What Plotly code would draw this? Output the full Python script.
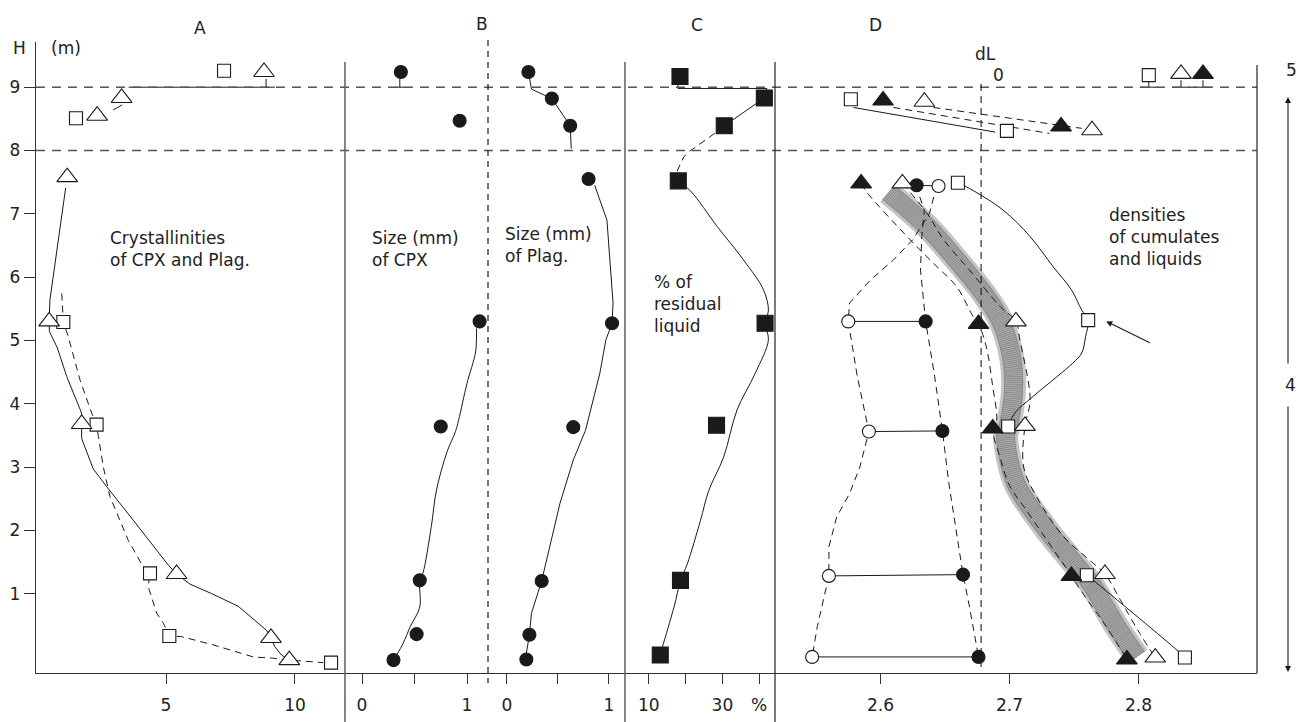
import plotly.graph_objects as go

W, HP = 1298, 722

# ---------------- data ----------------
# Panel A : crystallinities (triangles / squares), H in m
A_tri_x = [8.8, 3.28, 2.33, 1.17, 0.47, 1.73, 5.41, 9.07, 9.78]
A_tri_h = [9.24, 8.83, 8.55, 7.58, 5.30, 3.68, 1.31, 0.30, -0.05]
A_sq_x = [7.25, 1.51, 1.02, 2.31, 4.38, 5.13, 11.40]
A_sq_h = [9.26, 8.51, 5.29, 3.67, 1.32, 0.33, -0.09]
A_solid_x = [1.11, 0.50, 0.47, 0.48, 0.79, 1.15, 1.73, 1.73, 2.18, 2.70, 3.73, 5.09, 5.41,
             5.93, 6.77, 7.80, 8.90, 9.07, 9.22, 9.48, 9.78]
A_solid_h = [7.41, 5.64, 5.30, 5.14, 4.88, 4.43, 3.85, 3.45, 2.97, 2.69, 2.16, 1.45, 1.31,
             1.15, 1.00, 0.80, 0.42, 0.30, 0.16, 0.03, -0.05]
A_dash_x = [0.96, 1.02, 1.21, 1.67, 2.12, 2.31, 2.38, 2.57, 2.83, 3.54, 4.12, 4.38, 4.31, 4.64,
            4.90, 5.13, 5.61, 6.83, 8.38, 9.16, 9.78, 10.19, 11.10]
A_dash_h = [5.74, 5.29, 5.06, 4.37, 3.85, 3.67, 3.48, 3.00, 2.53, 1.84, 1.42, 1.32, 1.11, 0.69,
            0.53, 0.33, 0.32, 0.19, 0.00, -0.02, -0.05, -0.065, -0.09]
A_top_x = [2.95, 3.30, None, 3.55, 9.22, None, 8.88, 8.88]
A_top_h = [8.64, 8.72, None, 9.0, 9.0, None, 9.0, 9.13]

# Panel B : grain sizes (mm) of CPX and Plag.
B1_x = [0.37, 0.93, 1.12, 0.75, 0.55, 0.52, 0.30]
B1_h = [9.24, 8.47, 5.30, 3.64, 1.21, 0.36, -0.05]
B1_curve_x = [1.09, 1.09, 1.08, 1.00, 0.92, 0.89, 0.81, 0.71, 0.66, 0.58, 0.55, 0.55, 0.46, 0.39, 0.33]
B1_curve_h = [5.19, 5.01, 4.80, 4.32, 3.74, 3.56, 3.24, 2.64, 2.06, 1.32, 1.21, 0.79, 0.48, 0.21, 0.03]
B1_stem_x = [0.36, 0.36, None, 0.31, 0.41]
B1_stem_h = [9.13, 9.0, None, 9.0, 9.0]
B2_x = [0.21, 0.44, 0.62, 0.80, 1.03, 0.65, 0.34, 0.22, 0.19]
B2_h = [9.24, 8.82, 8.39, 7.55, 5.27, 3.63, 1.20, 0.35, -0.04]
B2_curve_x = [0.21, 0.24, 0.44, 0.62, 0.63, None, 0.86, 0.98, 1.04, 1.03, 0.97, 0.91, 0.77, 0.65,
              0.52, 0.37, 0.34, 0.24, 0.22, 0.19]
B2_curve_h = [9.24, 8.97, 8.82, 8.39, 8.03, None, 7.45, 6.90, 5.59, 5.27, 5.01, 4.48, 3.58, 3.11,
              2.43, 1.43, 1.20, 0.69, 0.35, 0.06]

# Panel C : % of residual liquid
C_x = [18.46, 41.4, 30.5, 18.0, 41.6, 28.4, 18.6, 13.1]
C_h = [9.17, 8.83, 8.39, 7.52, 5.27, 3.66, 1.21, 0.03]
C_top_x = [17.9, 17.9, 42.1, 41.4, 30.5]
C_top_h = [9.07, 8.98, 8.98, 8.83, 8.39]
C_dash_x = [30.5, 28.6, 20.9, 19.5, 17.8, 18.0]
C_dash_h = [8.39, 8.30, 7.98, 7.90, 7.69, 7.52]
C_low_x = [18.0, 21.35, 28.57, 35.76, 41.16, 42.51, 41.6, 42.51, 38.92, 33.97, 30.35, 26.30,
           24.05, 20.46, 18.65, 16.84, 13.70, 13.05]
C_low_h = [7.52, 7.36, 6.80, 6.27, 5.80, 5.48, 5.27, 5.01, 4.48, 3.90, 3.16, 2.63, 2.16, 1.47,
           1.21, 0.79, 0.16, 0.03]

# Panel D : densities of cumulates and liquids
D_sq_x = [2.808, 2.577, 2.698, 2.660, 2.761, 2.699, 2.760, 2.836]
D_sq_h = [9.19, 8.81, 8.31, 7.49, 5.32, 3.64, 1.29, -0.01]
D_ot_x = [2.833, 2.634, 2.764, 2.617, 2.705, 2.712, 2.774, 2.813]
D_ot_h = [9.21, 8.77, 8.32, 7.48, 5.30, 3.65, 1.31, -0.01]
D_ft_x = [2.850, 2.602, 2.740, 2.585, 2.676, 2.687, 2.748, 2.791]
D_ft_h = [9.21, 8.79, 8.38, 7.48, 5.26, 3.61, 1.28, -0.04]
D_oc_x = [2.645, 2.575, 2.591, 2.560, 2.547]
D_oc_h = [7.44, 5.30, 3.56, 1.28, 0.00]
D_fc_x = [2.628, 2.635, 2.648, 2.664, 2.676]
D_fc_h = [7.45, 5.30, 3.57, 1.30, 0.00]
D_oc_curve_x = [2.645, 2.642, 2.638, 2.625, 2.610, 2.592, 2.576, 2.575, 2.582, 2.591, 2.584,
                2.576, 2.566, 2.560, 2.560, 2.551, 2.547]
D_oc_curve_h = [7.44, 7.32, 7.01, 6.59, 6.27, 5.95, 5.59, 5.30, 4.43, 3.56, 3.00, 2.58, 2.21,
                1.74, 1.28, 0.48, 0.00]
D_fc_curve_x = [2.628, 2.629, 2.634, 2.632, 2.631, 2.635, 2.642, 2.648, 2.653, 2.659, 2.664, 2.669, 2.676]
D_fc_curve_h = [7.45, 7.35, 7.06, 6.64, 6.11, 5.30, 4.43, 3.57, 2.74, 1.95, 1.30, 0.79, 0.00]
D_sq_curve_x = [2.660, 2.669, 2.695, 2.716, 2.734, 2.748, 2.756, 2.761, 2.759, 2.756, 2.749,
                2.737, 2.718, 2.704, 2.699, None, 2.760, 2.765, 2.828, 2.836]
D_sq_curve_h = [7.49, 7.40, 7.06, 6.64, 6.16, 5.80, 5.48, 5.32, 5.06, 4.80, 4.64, 4.43, 4.11,
                3.85, 3.64, None, 1.29, 1.21, 0.14, -0.01]
D_ft_curve_x = [2.585, 2.589, 2.623, 2.644, 2.659, 2.672, 2.676, 2.682, 2.687, 2.690, 2.687,
                2.693, 2.700, 2.713, 2.736, 2.748, 2.757, 2.775, 2.791]
D_ft_curve_h = [7.48, 7.35, 6.59, 6.16, 5.85, 5.37, 5.26, 4.90, 4.27, 3.74, 3.61, 3.13, 2.71,
                2.32, 1.64, 1.28, 1.00, 0.48, -0.04]
D_ot_curve_x = [2.617, 2.636, 2.649, 2.669, 2.693, 2.705, 2.708, 2.716, 2.712, 2.711, 2.721,
                2.742, 2.762, 2.774, 2.786, 2.801, 2.813]
D_ot_curve_h = [7.48, 7.01, 6.59, 6.11, 5.53, 5.30, 5.01, 4.06, 3.65, 3.00, 2.53, 1.90, 1.53,
                1.31, 0.90, 0.37, -0.01]
D_band_x = [2.606, 2.636, 2.659, 2.680, 2.693, 2.702, 2.703, 2.699, 2.697, 2.705, 2.727, 2.748,
            2.763, 2.783, 2.799]
D_band_h = [7.34, 6.80, 6.27, 5.74, 5.32, 4.69, 4.16, 3.64, 3.50, 2.74, 2.06, 1.53, 1.16, 0.48, 0.00]
D_up_sq_x = [2.579, 2.689]
D_up_sq_h = [8.68, 8.29]
D_up_ft_x = [2.610, 2.731]
D_up_ft_h = [8.68, 8.27]
D_up_ot_x = [2.641, 2.756]
D_up_ot_h = [8.68, 8.35]
dL = 2.678
level_5_4 = 9.0
level_lower = 8.0

# ---------------- helpers ----------------
INK = "#1a1a1a"


def px(x):
    return x / W


def py(y):
    return 1 - y / HP


fig = go.Figure()


def add_line(x, h, xa, dash=None, width=1.0, color=INK, shape="linear"):
    fig.add_trace(go.Scatter(x=x, y=h, xaxis=xa, yaxis="y", mode="lines",
                             line=dict(color=color, width=width, dash=dash, shape=shape),
                             hoverinfo="skip", showlegend=False, connectgaps=False))


def add_marks(x, h, xa, symbol, size, filled):
    fig.add_trace(go.Scatter(x=x, y=h, xaxis=xa, yaxis="y", mode="markers",
                             marker=dict(symbol=symbol, size=size,
                                         color=INK if filled else "white",
                                         line=dict(color=INK, width=1.1)),
                             hoverinfo="skip", showlegend=False, cliponaxis=False))


def stems(xs, hs, foot):
    sx, sh = [], []
    for xv, hv in zip(xs, hs):
        if hv > level_5_4:
            sx += [xv, xv, None, xv - foot, xv + foot, None]
            sh += [level_5_4, hv - 0.1, None, level_5_4, level_5_4, None]
    return sx, sh


DASH = "7px,5px"

# ---- Panel A
add_line(A_solid_x, A_solid_h, "x")
add_line(A_dash_x, A_dash_h, "x", dash=DASH)
add_line(A_top_x, A_top_h, "x")
add_marks(A_sq_x, A_sq_h, "x", "square", 13, False)
add_marks(A_tri_x, A_tri_h, "x", "triangle-up", 18, False)

# ---- Panel B
add_line(B1_curve_x, B1_curve_h, "x2", shape="spline")
add_line(B1_stem_x, B1_stem_h, "x2")
add_marks(B1_x, B1_h, "x2", "circle", 13, True)
add_line(B2_curve_x, B2_curve_h, "x3")
add_marks(B2_x, B2_h, "x3", "circle", 13, True)

# ---- Panel C
add_line(C_top_x, C_top_h, "x4")
add_line(C_dash_x, C_dash_h, "x4", dash=DASH)
add_line(C_low_x, C_low_h, "x4", shape="spline")
add_marks(C_x, C_h, "x4", "square", 16, True)

# ---- Panel D
add_line(D_band_x, D_band_h, "x5", width=25, color="#c4c4c4", shape="spline")
add_line(D_band_x, D_band_h, "x5", width=19, color="#8a8a8a", shape="spline")
add_line(D_band_x, D_band_h, "x5", width=17, color="rgba(255,255,255,0.3)", shape="spline",
         dash="1px,1px")
add_line(D_ft_curve_x, D_ft_curve_h, "x5", dash=DASH, shape="spline")
add_line(D_ot_curve_x, D_ot_curve_h, "x5", dash=DASH, shape="spline")
add_line(D_oc_curve_x, D_oc_curve_h, "x5", dash=DASH)
add_line(D_fc_curve_x, D_fc_curve_h, "x5", dash=DASH)
add_line(D_sq_curve_x, D_sq_curve_h, "x5", shape="spline")
add_line(D_up_sq_x, D_up_sq_h, "x5")
add_line(D_up_ft_x, D_up_ft_h, "x5", dash=DASH)
add_line(D_up_ot_x, D_up_ot_h, "x5", dash=DASH)
rx, rh = [], []
for a, b, ha, hb in zip(D_oc_x, D_fc_x, D_oc_h, D_fc_h):
    rx += [a, b, None]
    rh += [ha, hb, None]
add_line(rx, rh, "x5")
for xs, hs in ((D_sq_x, D_sq_h), (D_ot_x, D_ot_h), (D_ft_x, D_ft_h)):
    sx, sh = stems(xs, hs, 0.007)
    add_line(sx, sh, "x5")
add_marks(D_oc_x, D_oc_h, "x5", "circle", 13, False)
add_marks(D_fc_x, D_fc_h, "x5", "circle", 13, True)
add_marks(D_sq_x, D_sq_h, "x5", "square", 13, False)
add_marks(D_ot_x, D_ot_h, "x5", "triangle-up", 18, False)
add_marks(D_ft_x, D_ft_h, "x5", "triangle-up", 18, True)

# ---------------- axes ----------------
FONT = "DejaVu Sans"
edges = [36, 345, 488, 625, 775, 1257]
ranges = [[-0.04, 11.94], [-0.162, 1.2], [-0.186, 1.157], [3.51, 44.3], [2.5182, 2.8919]]
ticks = [([5, 10], ["5", "10"]),
         ([0, 0.5, 1], ["0", "", "1"]),
         ([0, 0.5, 1], ["0", "", "1"]),
         ([10, 20, 30, 40], ["10", "", "30", "%"]),
         ([2.6, 2.7, 2.8], ["2.6", "2.7", "2.8"])]
axis_common = dict(anchor="y", showgrid=False, zeroline=False, showline=True, linecolor="#333",
                   linewidth=1.3, ticks="outside", ticklen=10, tickcolor="#333", tickwidth=1,
                   tickfont=dict(family=FONT, size=17, color="#222"), ticklabelstandoff=6,
                   fixedrange=True)
lay = {}
for i in range(5):
    key = "xaxis" if i == 0 else f"xaxis{i + 1}"
    lay[key] = dict(axis_common, domain=[px(edges[i]), px(edges[i + 1])], range=ranges[i],
                    tickmode="array", tickvals=ticks[i][0], ticktext=ticks[i][1])

ybot, ytop = 673, 42
lay["yaxis"] = dict(anchor="x", domain=[py(ybot), py(ytop)], range=[-0.254, 9.714],
                    showgrid=False, zeroline=False, showline=True, linecolor="#333", linewidth=1.3,
                    ticks="outside", ticklen=11, tickcolor="#333", tickmode="array",
                    tickvals=[1, 2, 3, 4, 5, 6, 7, 8, 9],
                    tickfont=dict(family=FONT, size=17, color="#222"), fixedrange=True)

shapes = []
# dashed reference levels
for lv in (level_5_4, level_lower):
    shapes.append(dict(type="line", xref="paper", yref="y", x0=px(36), x1=px(1257), y0=lv, y1=lv,
                       line=dict(color="#555", width=1.5, dash="9px,7px")))
# panel separators
for xe, c, wd in ((345, "#666", 1.6), (625, "#666", 1.6), (775, "#222", 1.2)):
    shapes.append(dict(type="line", xref="paper", yref="paper", x0=px(xe), x1=px(xe),
                       y0=py(62), y1=py(722), line=dict(color=c, width=wd)))
shapes.append(dict(type="line", xref="paper", yref="paper", x0=px(1257), x1=px(1257),
                   y0=py(65), y1=py(673), line=dict(color="#222", width=1.2)))
# B middle dashed divider
shapes.append(dict(type="line", xref="paper", yref="paper", x0=px(488), x1=px(488),
                   y0=py(40), y1=py(683), line=dict(color=INK, width=1.2, dash="6px,5px")))
# dL line
shapes.append(dict(type="line", xref="x5", yref="y", x0=dL, x1=dL, y0=-0.16, y1=9.11,
                   line=dict(color=INK, width=1.1, dash="7px,5px")))


def txt(s, x, y, size=17, xanchor="center", yanchor="middle", align="center"):
    return dict(text=s, x=px(x), y=py(y), xref="paper", yref="paper", showarrow=False,
                xanchor=xanchor, yanchor=yanchor, align=align,
                font=dict(family=FONT, size=size, color="#222"))


ann = [
    txt("A", 200, 28), txt("B", 482, 24), txt("C", 697, 25), txt("D", 875, 25),
    txt("H", 19, 48), txt("(m)", 66, 48),
    txt("dL", 985, 54), txt("0", 998, 75),
    txt("5", 1291, 70), txt("4", 1290, 385),
    txt("Crystallinities<br>of CPX and Plag.", 108, 249, xanchor="left", align="left"),
    txt("Size (mm)<br>of CPX", 370, 249, xanchor="left", align="left"),
    txt("Size (mm)<br>of Plag.", 503, 245, xanchor="left", align="left"),
    txt("% of<br>residual<br>liquid", 652, 304, xanchor="left", align="left"),
    txt("densities<br>of cumulates<br>and liquids", 1107, 237, xanchor="left", align="left"),
]
# vertical arrows of units 5 / 4
ann.append(dict(x=px(1288), y=py(97), xref="paper", yref="paper", ax=0, ay=268, text="",
                showarrow=True, arrowhead=2, arrowsize=1.1, arrowwidth=1.1, arrowcolor=INK))
ann.append(dict(x=px(1288), y=py(672), xref="paper", yref="paper", ax=0, ay=-267, text="",
                showarrow=True, arrowhead=2, arrowsize=1.1, arrowwidth=1.1, arrowcolor=INK))
# arrow pointing at the square of densities
ann.append(dict(x=2.775, y=5.30, xref="x5", yref="y", ax=2.810, ay=4.95, axref="x5", ayref="y",
                text="", showarrow=True, arrowhead=2, arrowsize=1.1, arrowwidth=1.1,
                arrowcolor=INK))

fig.update_layout(width=W, height=HP, margin=dict(l=0, r=0, t=0, b=0),
                  paper_bgcolor="white", plot_bgcolor="white", showlegend=False,
                  shapes=shapes, annotations=ann, **lay)
fig.write_html("out.html", config={"displayModeBar": False, "staticPlot": True},
               post_script="document.body.style.margin='0';document.body.style.overflow='hidden';")
